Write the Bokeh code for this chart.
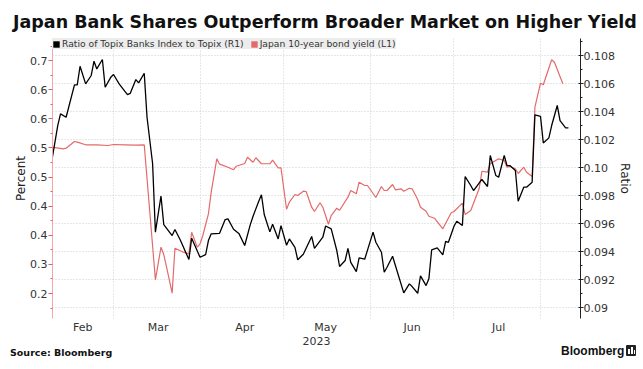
from datetime import datetime
import pandas as pd
from bokeh.plotting import figure
from bokeh.layouts import column
from bokeh.models import (Range1d, LinearAxis, FixedTicker, Legend, LegendItem, Div,
                          DatetimeTickFormatter)
from bokeh.embed import file_html
from bokeh.resources import INLINE

# ---------------- data ----------------
ratio_dates = [
    "2023-02-07", "2023-02-09", "2023-02-10", "2023-02-12", "2023-02-15", "2023-02-16", "2023-02-17", "2023-02-19", "2023-02-21", "2023-02-22",
    "2023-02-23", "2023-02-25", "2023-02-26", "2023-02-28", "2023-03-01", "2023-03-03", "2023-03-05", "2023-03-06", "2023-03-07", "2023-03-09",
    "2023-03-10", "2023-03-12", "2023-03-13", "2023-03-15", "2023-03-16", "2023-03-18", "2023-03-19", "2023-03-22", "2023-03-23", "2023-03-25",
    "2023-03-28", "2023-03-29", "2023-04-01", "2023-04-03", "2023-04-04", "2023-04-05", "2023-04-08", "2023-04-10", "2023-04-11", "2023-04-13",
    "2023-04-15", "2023-04-17", "2023-04-19", "2023-04-20", "2023-04-22", "2023-04-23", "2023-04-24", "2023-04-26", "2023-04-27", "2023-04-29",
    "2023-04-30", "2023-05-02", "2023-05-03", "2023-05-05", "2023-05-06", "2023-05-08", "2023-05-11", "2023-05-12", "2023-05-15", "2023-05-16",
    "2023-05-18", "2023-05-20", "2023-05-21", "2023-05-23", "2023-05-24", "2023-05-25", "2023-05-27", "2023-05-28", "2023-05-30", "2023-06-02",
    "2023-06-03", "2023-06-05", "2023-06-06", "2023-06-07", "2023-06-09", "2023-06-10", "2023-06-13", "2023-06-15", "2023-06-16", "2023-06-18",
    "2023-06-19", "2023-06-21", "2023-06-22", "2023-06-23", "2023-06-25", "2023-06-27", "2023-06-28", "2023-06-29", "2023-07-01", "2023-07-02",
    "2023-07-04", "2023-07-05", "2023-07-07", "2023-07-08", "2023-07-11", "2023-07-13", "2023-07-14", "2023-07-16", "2023-07-17", "2023-07-19",
    "2023-07-20", "2023-07-21", "2023-07-23", "2023-07-24", "2023-07-26", "2023-07-27", "2023-07-29", "2023-07-30", "2023-08-01", "2023-08-02",
    "2023-08-04", "2023-08-05", "2023-08-07", "2023-08-08", "2023-08-10", "2023-08-11",
]
ratio_values = [
    0.10064, 0.10302, 0.10385, 0.10361, 0.10592, 0.10592, 0.10725, 0.10599, 0.10659, 0.10761,
    0.10706, 0.10773, 0.10575, 0.10646, 0.10666, 0.10599, 0.10547, 0.10523, 0.10532, 0.10630,
    0.10606, 0.10675, 0.10361, 0.10029, 0.09541, 0.09799, 0.09595, 0.09517, 0.09560, 0.09481,
    0.09346, 0.09498, 0.09362, 0.09381, 0.09481, 0.09529, 0.09533, 0.09631, 0.09636, 0.09562,
    0.09529, 0.09446, 0.09595, 0.09655, 0.09760, 0.09808, 0.09667, 0.09543, 0.09597, 0.09493,
    0.09588, 0.09448, 0.09493, 0.09433, 0.09344, 0.09384, 0.09510, 0.09426, 0.09505, 0.09585,
    0.09565, 0.09410, 0.09296, 0.09339, 0.09426, 0.09326, 0.09260, 0.09358, 0.09348, 0.09541,
    0.09469, 0.09398, 0.09255, 0.09291, 0.09369, 0.09303, 0.09108, 0.09172, 0.09153, 0.09105,
    0.09229, 0.09160, 0.09208, 0.09415, 0.09429, 0.09379, 0.09476, 0.09469, 0.09583, 0.09619,
    0.09588, 0.09938, 0.09874, 0.09838, 0.09917, 0.09867, 0.10088, 0.09945, 0.09933, 0.10088,
    0.10016, 0.10016, 0.09981, 0.09762, 0.09862, 0.09862, 0.09897, 0.10378, 0.10368, 0.10178,
    0.10214, 0.10302, 0.10445, 0.10337, 0.10285, 0.10285,
]
yield_dates = [
    "2023-02-07", "2023-02-11", "2023-02-12", "2023-02-15", "2023-02-16", "2023-02-19", "2023-02-23", "2023-02-27", "2023-03-01", "2023-03-05",
    "2023-03-09", "2023-03-12", "2023-03-16", "2023-03-18", "2023-03-19", "2023-03-20", "2023-03-22", "2023-03-23", "2023-03-26", "2023-03-28",
    "2023-03-29", "2023-03-31", "2023-04-01", "2023-04-02", "2023-04-04", "2023-04-05", "2023-04-07", "2023-04-08", "2023-04-11", "2023-04-13",
    "2023-04-14", "2023-04-17", "2023-04-18", "2023-04-20", "2023-04-21", "2023-04-23", "2023-04-26", "2023-04-27", "2023-04-29", "2023-04-30",
    "2023-05-02", "2023-05-03", "2023-05-05", "2023-05-06", "2023-05-08", "2023-05-09", "2023-05-11", "2023-05-12", "2023-05-14", "2023-05-15",
    "2023-05-17", "2023-05-18", "2023-05-20", "2023-05-21", "2023-05-24", "2023-05-25", "2023-05-27", "2023-05-28", "2023-05-30", "2023-05-31",
    "2023-06-03", "2023-06-05", "2023-06-06", "2023-06-07", "2023-06-09", "2023-06-10", "2023-06-12", "2023-06-13", "2023-06-15", "2023-06-16",
    "2023-06-18", "2023-06-19", "2023-06-21", "2023-06-22", "2023-06-24", "2023-06-27", "2023-06-30", "2023-07-01", "2023-07-04", "2023-07-05",
    "2023-07-07", "2023-07-10", "2023-07-11", "2023-07-13", "2023-07-14", "2023-07-17", "2023-07-19", "2023-07-20", "2023-07-21", "2023-07-23",
    "2023-07-24", "2023-07-26", "2023-07-27", "2023-07-29", "2023-07-30", "2023-08-01", "2023-08-02", "2023-08-05", "2023-08-06", "2023-08-09",
]
yield_values = [
    0.5014, 0.4986, 0.4997, 0.5112, 0.5100, 0.5055, 0.5055, 0.5043, 0.5060, 0.5055,
    0.5048, 0.5055, 0.2736, 0.3296, 0.3170, 0.2952, 0.2505, 0.3279, 0.3210, 0.3182,
    0.3553, 0.3296, 0.3354, 0.3497, 0.3870, 0.4241, 0.4814, 0.4722, 0.4670, 0.4627,
    0.4687, 0.4734, 0.4842, 0.4756, 0.4832, 0.4729, 0.4729, 0.4790, 0.4660, 0.4660,
    0.3947, 0.4069, 0.4201, 0.4184, 0.4258, 0.4253, 0.3983, 0.3909, 0.4059, 0.3983,
    0.3691, 0.3840, 0.3966, 0.3931, 0.4155, 0.4270, 0.4213, 0.4412, 0.4356, 0.4356,
    0.4150, 0.4339, 0.4270, 0.4270, 0.4373, 0.4282, 0.4299, 0.4258, 0.4309, 0.4299,
    0.4115, 0.3983, 0.3914, 0.3828, 0.3794, 0.3612, 0.3887, 0.3909, 0.4052, 0.3858,
    0.3926, 0.4299, 0.4601, 0.4584, 0.4729, 0.4814, 0.4785, 0.4670, 0.4682, 0.4643,
    0.4562, 0.4670, 0.4584, 0.4510, 0.5701, 0.6113, 0.6086, 0.6515, 0.6474, 0.6103,
]

left_ticks = [0.25, 0.30, 0.35, 0.40, 0.45, 0.50, 0.55, 0.60, 0.65]
left_tick_labels = ["0.2", "0.3", "0.4", "0.4", "0.5", "0.5", "0.6", "0.6", "0.7"]
left_minor = [0.225, 0.275, 0.325, 0.375, 0.425, 0.475, 0.525, 0.575, 0.625, 0.675]
right_ticks = [0.090, 0.092, 0.094, 0.096, 0.098, 0.100, 0.102, 0.104, 0.106, 0.108]
right_tick_labels = ["0.09", "0.092", "0.094", "0.096", "0.098", "0.10", "0.102", "0.104", "0.106", "0.108"]
right_minor = [0.089, 0.091, 0.093, 0.095, 0.097, 0.099, 0.101, 0.103, 0.105, 0.107, 0.109]
month_starts = ["2023-03-01", "2023-04-01", "2023-05-01", "2023-06-01", "2023-07-01", "2023-08-01"]
month_label_dates = ["2023-02-18", "2023-03-17", "2023-04-17", "2023-05-16", "2023-06-16", "2023-07-17"]

ratio_name = "Ratio of Topix Banks Index to Topix (R1)"
yield_name = "Japan 10-year bond yield (L1)"
title_text = "Japan Bank Shares Outperform Broader Market on Higher Yield"
year_text = "2023"
source_text = "Source: Bloomberg"
brand_text = "Bloomberg"

# ---------------- styling ----------------
FONT = "DejaVu Sans"
RED = "#e46a6a"
W = 643


def ms(d):
    return pd.Timestamp(d).value / 1e6


def span(text, left, top, font, extra=""):
    return (f'<span style="position:absolute;left:{left}px;top:{top}px;font:{font};'
            f'white-space:nowrap;{extra}">{text}</span>')


# ---------------- header ----------------
HEAD_H = 36
head = Div(width=W, height=HEAD_H, margin=(0, 0, 0, 0),
           text=('<div style="position:relative;width:643px;height:36px;">'
                 + span(title_text, 13, 13.7, "bold 17.5px/17.5px 'DejaVu Sans'", "color:#111111;")
                 + '</div>'))

# ---------------- main chart ----------------
p = figure(width=W, height=297, frame_width=528, frame_height=280,
           x_axis_type="datetime", output_backend="svg", toolbar_location=None,
           x_range=Range1d(datetime(2023, 2, 7, 3), datetime(2023, 8, 15, 8)),
           y_range=Range1d(0.2071, 0.6881),
           min_border_left=52, min_border_right=63, min_border_top=2, min_border_bottom=15)
p.extra_y_ranges = {"ratio": Range1d(0.08925, 0.10923)}
p.outline_line_color = None
p.background_fill_color = "white"
p.border_fill_color = "white"

p.xgrid.ticker = FixedTicker(ticks=[ms(d) for d in month_starts])
p.xgrid.grid_line_color = "#cfcfcf"
p.xgrid.grid_line_dash = "1 2"
p.ygrid.y_range_name = "ratio"
p.ygrid.ticker = FixedTicker(ticks=right_ticks)
p.ygrid.grid_line_color = "#cfcfcf"
p.ygrid.grid_line_dash = "1 2"

p.line(pd.to_datetime(yield_dates), yield_values, line_color=RED, line_width=1.2)
p.line(pd.to_datetime(ratio_dates), ratio_values, line_color="black", line_width=1.3,
       y_range_name="ratio")

nan = float("nan")
r_sw = p.quad(left=[nan], right=[nan], top=[nan], bottom=[nan], fill_color="black", line_color=None)
y_sw = p.quad(left=[nan], right=[nan], top=[nan], bottom=[nan], fill_color=RED, line_color=None)
leg = Legend(items=[LegendItem(label=ratio_name, renderers=[r_sw]),
                    LegendItem(label=yield_name, renderers=[y_sw])],
             location="top_left", orientation="horizontal", margin=0, padding=3,
             spacing=6, label_standoff=2, glyph_width=8, glyph_height=8,
             label_height=9, label_text_font=FONT, label_text_font_size="9.2px",
             label_text_color="#333333", background_fill_color="#ececec",
             background_fill_alpha=1.0, border_line_color=None)
p.add_layout(leg, "center")

la = p.yaxis[0]
la.ticker = FixedTicker(ticks=left_ticks, minor_ticks=left_minor)
la.major_label_overrides = dict(zip(left_ticks, left_tick_labels))
la.axis_line_color = "#f0a8a8"
la.major_tick_line_color = "#e06060"
la.minor_tick_line_color = "#e06060"
la.major_tick_in = 0
la.major_tick_out = 4
la.minor_tick_in = 0
la.minor_tick_out = 2
la.major_label_text_font = FONT
la.major_label_text_font_size = "11px"
la.major_label_text_color = "#333333"
la.major_label_standoff = 1
la.axis_label = "Percent"
la.axis_label_text_font = FONT
la.axis_label_text_font_size = "12px"
la.axis_label_text_font_style = "normal"
la.axis_label_text_color = "#222222"
la.axis_label_standoff = -1

ra = LinearAxis(y_range_name="ratio")
ra.ticker = FixedTicker(ticks=right_ticks, minor_ticks=right_minor)
ra.major_label_overrides = dict(zip(right_ticks, right_tick_labels))
ra.axis_line_color = "#222222"
ra.major_tick_line_color = "#222222"
ra.minor_tick_line_color = "#222222"
ra.major_tick_in = 2
ra.major_tick_out = 3
ra.minor_tick_in = 0
ra.minor_tick_out = 2
ra.major_label_text_font = FONT
ra.major_label_text_font_size = "11px"
ra.major_label_text_color = "#333333"
ra.major_label_standoff = 0
ra.axis_label = "Ratio"
ra.axis_label_text_font = FONT
ra.axis_label_text_font_size = "12px"
ra.axis_label_text_font_style = "normal"
ra.axis_label_text_color = "#222222"
ra.axis_label_standoff = 0
p.add_layout(ra, "right")

xa = p.xaxis[0]
xa.ticker = FixedTicker(ticks=[ms(d) for d in month_label_dates])
xa.formatter = DatetimeTickFormatter(days="%b", months="%b", years="%b", hours="%b",
                                     minutes="%b", seconds="%b", milliseconds="%b",
                                     microseconds="%b", minsec="%b", hourmin="%b")
xa.axis_line_color = None
xa.major_tick_line_color = None
xa.minor_tick_line_color = None
xa.major_tick_out = 0
xa.major_tick_in = 0
xa.minor_tick_out = 0
xa.minor_tick_in = 0
xa.major_label_text_font = FONT
xa.major_label_text_font_size = "11px"
xa.major_label_text_color = "#333333"
xa.major_label_standoff = 2

# ---------------- footer ----------------
FOOT_H = 36
icon = ('<span style="position:absolute;left:626px;top:9px;width:10px;height:11px;'
        'background:#222222;border-radius:1px;"></span>'
        '<span style="position:absolute;left:628px;top:13px;width:1.5px;height:5px;background:#ffffff;"></span>'
        '<span style="position:absolute;left:631px;top:11px;width:1.5px;height:7px;background:#ffffff;"></span>'
        '<span style="position:absolute;left:634px;top:14px;width:1px;height:4px;background:#ffffff;"></span>')
foot = Div(width=W, height=FOOT_H, margin=(0, 0, 0, 0),
           text=('<div style="position:relative;width:643px;height:36px;">'
                 + span(year_text, 316.5, 0, "11px/11px 'DejaVu Sans'",
                        "color:#333333;transform:translateX(-50%);")
                 + span(source_text, 10, 11.5, "bold 9.5px/9.5px 'DejaVu Sans'", "color:#111111;")
                 + span(brand_text, 561, 8.5, "bold 12px/12px 'Liberation Sans'", "color:#111111;")
                 + icon
                 + '</div>'))

layout = column(head, p, foot, spacing=0)
open("out.html", "w").write(file_html(layout, INLINE))
